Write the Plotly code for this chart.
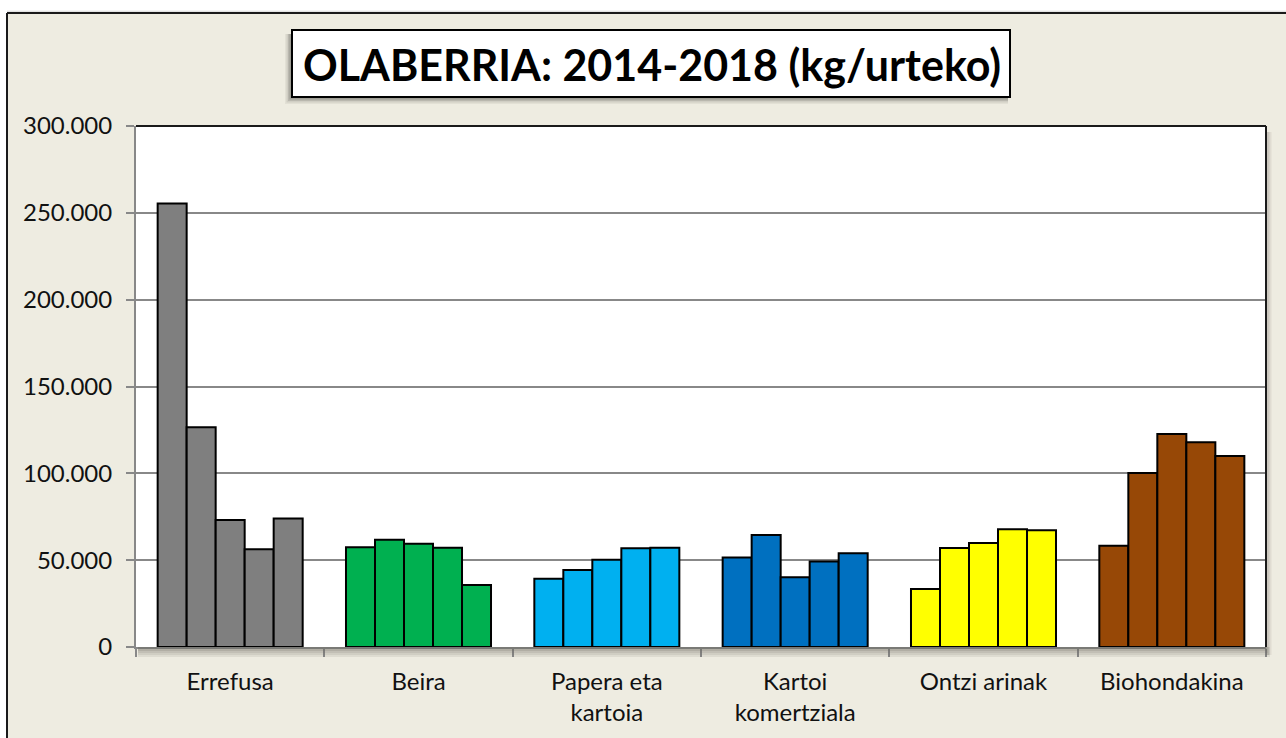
import plotly.graph_objects as go

categories = ["Errefusa", "Beira", "Papera eta<br>kartoia", "Kartoi<br>komertziala", "Ontzi arinak", "Biohondakina"]
years = ["2014", "2015", "2016", "2017", "2018"]
errefusa = [255400, 126600, 73200, 56300, 74000]
beira = [57400, 61800, 59500, 57200, 35700]
papera = [39300, 44400, 50300, 56900, 57200]
kartoi = [51500, 64500, 40100, 49200, 54000]
ontzi = [33400, 57000, 59900, 67800, 67200]
bio = [58300, 100200, 122700, 117900, 110000]
cat_colors = ["#7F7F7F", "#00B050", "#00B0F0", "#0070C0", "#FFFF00", "#974806"]
tick_vals = [0, 50000, 100000, 150000, 200000, 250000, 300000]
tick_text = ["0", "50.000", "100.000", "150.000", "200.000", "250.000", "300.000"]
title_text = "OLABERRIA: 2014-2018 (kg/urteko)"

series = [errefusa, beira, papera, kartoi, ontzi, bio]

W, H = 1286, 738
L, R, T, B = 136, 1266, 126, 647


def px(x):
    return (x - L) / (R - L)


def py(y):
    return (B - y) / (B - T)


fig = go.Figure()
for i, yr in enumerate(years):
    fig.add_trace(go.Bar(
        x=categories,
        y=[s[i] for s in series],
        name=yr,
        marker=dict(color=cat_colors, line=dict(color="#000000", width=2)),
        showlegend=False,
        hoverinfo="skip",
    ))

shapes = []
# page white strips + outer border
shapes.append(dict(type="rect", xref="paper", yref="paper", x0=px(0), x1=px(W), y0=py(13), y1=py(0),
                   fillcolor="white", line_width=0, layer="above"))
shapes.append(dict(type="rect", xref="paper", yref="paper", x0=px(0), x1=px(7), y0=py(H), y1=py(0),
                   fillcolor="white", line_width=0, layer="above"))
for k, op in enumerate([0.08, 0.15, 0.3]):
    shapes.append(dict(type="rect", xref="paper", yref="paper", x0=px(7), x1=px(W), y0=py(13), y1=py(10 + k),
                       fillcolor="gray", opacity=op, line_width=0, layer="above"))
shapes.append(dict(type="line", xref="paper", yref="paper", x0=px(7), x1=px(W), y0=py(13), y1=py(13),
                   line=dict(color="#1a1a1a", width=2), layer="above"))
shapes.append(dict(type="line", xref="paper", yref="paper", x0=px(7), x1=px(7), y0=py(13), y1=py(H),
                   line=dict(color="#1a1a1a", width=2), layer="above"))

# plot area shadow (below and right)
for k, op in enumerate([0.12, 0.12, 0.15, 0.2]):
    shapes.append(dict(type="rect", xref="paper", yref="paper", x0=px(L + 2), x1=px(R + 4 - k), y0=py(B + 10 - 2 * k), y1=py(B),
                       fillcolor="#6f6d66", opacity=op, line_width=0, layer="above"))
    shapes.append(dict(type="rect", xref="paper", yref="paper", x0=px(R), x1=px(R + 6 - k), y0=py(B + 8), y1=py(T + 6),
                       fillcolor="#6f6d66", opacity=op * 0.5, line_width=0, layer="above"))

# plot top/right borders
shapes.append(dict(type="line", xref="paper", yref="paper", x0=0, x1=1, y0=1, y1=1,
                   line=dict(color="#1a1a1a", width=2), layer="above"))
shapes.append(dict(type="line", xref="paper", yref="paper", x0=1, x1=1, y0=0, y1=1,
                   line=dict(color="#1a1a1a", width=2), layer="above"))

# title box shadow and box
bx0, bx1, by0, by1 = 292, 1010, 30, 97
for k, op in enumerate([0.08, 0.12, 0.18, 0.25]):
    d = 7 - k * 1.5
    shapes.append(dict(type="rect", xref="paper", yref="paper", x0=px(bx0 - d), x1=px(bx1 - 2), y0=py(by1 + d), y1=py(by0 + 4),
                       fillcolor="#55534c", opacity=op, line_width=0, layer="above"))
shapes.append(dict(type="rect", xref="paper", yref="paper", x0=px(bx0), x1=px(bx1), y0=py(by1), y1=py(by0),
                   fillcolor="white", line=dict(color="#000000", width=2), layer="above"))

fig.update_layout(
    width=W, height=H, autosize=False,
    margin=dict(l=L, r=W - R, t=T, b=H - B, pad=0),
    paper_bgcolor="#EEECE1",
    plot_bgcolor="white",
    barmode="group",
    bargap=0.23,
    bargroupgap=0,
    font=dict(family="Lato", color="#000000"),
    shapes=shapes,
    annotations=[dict(text="<b>" + title_text + "</b>", xref="paper", yref="paper",
                      x=px((bx0 + bx1) / 2 + 1), y=py((by0 + by1) / 2 + 1), xanchor="center", yanchor="middle",
                      showarrow=False, font=dict(family="Lato", size=43, color="#000000"))],
)
fig.update_yaxes(range=[0, 300000], tickvals=tick_vals, ticktext=tick_text,
                 showgrid=True, gridcolor="#888888", gridwidth=2, zeroline=False,
                 showline=True, linecolor="#888888", linewidth=2,
                 ticks="outside", ticklen=8, tickcolor="#888888", tickwidth=2,
                 ticklabelstandoff=9,
                 tickfont=dict(family="Lato", size=24, color="#111111"), fixedrange=True)
fig.update_xaxes(showline=True, linecolor="#888888", linewidth=2,
                 ticks="outside", tickson="boundaries", ticklen=8, tickcolor="#888888", tickwidth=2,
                 ticklabelstandoff=12,
                 tickfont=dict(family="Lato", size=24, color="#111111"), fixedrange=True)

fig.write_html("out.html", config={"displayModeBar": False},
               post_script="document.body.style.margin='0';document.body.style.padding='0';")
